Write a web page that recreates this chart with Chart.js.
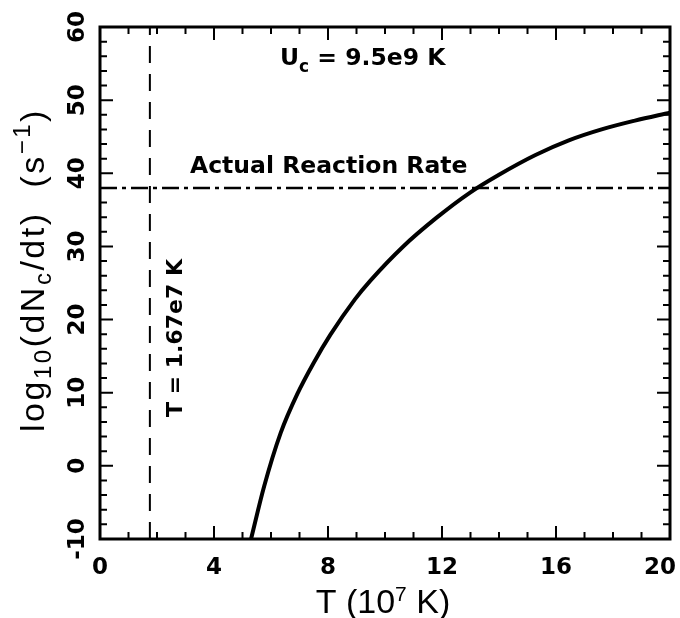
<!DOCTYPE html>
<html>
<head>
<meta charset="utf-8">
<script src="https://cdn.jsdelivr.net/npm/chart.js@4.4.1/dist/chart.umd.min.js"></script>
<style>
  html, body { margin: 0; padding: 0; background: #ffffff; }
  #wrap { width: 680px; height: 618px; position: relative; }
</style>
</head>
<body>
<div id="wrap"><canvas id="rateChart"></canvas></div>
<script>
// T in units of 1e7 K
const temps = [5.3, 5.76, 6.34, 6.92, 7.5, 8.08, 8.95, 9.48, 10.64, 11.8, 12.96, 14.0, 15.28, 16.45, 17.6, 18.77, 20];
// log10(dNc/dt) in s^-1
const logRates = [-10, -2.8, 4.5, 9.8, 14.1, 17.9, 22.8, 25.3, 30.0, 33.9, 37.3, 39.8, 42.5, 44.5, 46.0, 47.2, 48.3];

// reference lines
const actualRate = 38;
const coreTemp = 1.75;

// axis ticks
const xTickLabels = [0, 4, 8, 12, 16, 20];
const yTickLabels = [-10, 0, 10, 20, 30, 40, 50, 60];
const xMinorTicks = [0, 1, 2, 3, 4, 5, 6, 7, 8, 9, 10, 11, 12, 13, 14, 15, 16, 17, 18, 19, 20];
const yMinorTicks = [-10, -8, -6, -4, -2, 0, 2, 4, 6, 8, 10, 12, 14, 16, 18, 20, 22, 24, 26, 28, 30, 32, 34, 36, 38, 40, 42, 44, 46, 48, 50, 52, 54, 56, 58, 60];

const tickFont = 'bold 23px "DejaVu Sans"';
const noteFont = 'bold 23.5px "DejaVu Sans"';
const titleFont = '34px "Liberation Sans"';

// draw a row of text pieces (for sub/superscripts), optionally rotated
function drawRuns(ctx, runs, x, y, align, angle, spacing) {
    ctx.save();
    ctx.translate(x, y);
    if (angle) ctx.rotate(angle);
    ctx.textAlign = 'left';
    ctx.textBaseline = 'alphabetic';
    ctx.letterSpacing = (spacing || 0) + 'px';
    let total = 0;
    runs.forEach(r => {
        ctx.font = r.font;
        r.w = ctx.measureText(r.text).width;
        total += r.w;
    });
    let cx = align === 'center' ? -total / 2 : (align === 'right' ? -total : 0);
    runs.forEach(r => {
        ctx.font = r.font;
        ctx.fillText(r.text, cx, r.dy || 0);
        cx += r.w;
    });
    ctx.restore();
    return total;
}

const framePlugin = {
    id: 'framePlugin',
    afterDatasetsDraw(chart) {
        const ctx = chart.ctx;
        const xs = chart.scales.x;
        const ys = chart.scales.y;
        const a = chart.chartArea;
        ctx.save();
        ctx.strokeStyle = '#000';
        ctx.fillStyle = '#000';

        // tick marks on all four sides
        ctx.lineWidth = 2;
        ctx.beginPath();
        xMinorTicks.forEach(v => {
            const px = xs.getPixelForValue(v);
            const len = xTickLabels.includes(v) ? 13 : 7;
            ctx.moveTo(px, a.bottom); ctx.lineTo(px, a.bottom - len);
            ctx.moveTo(px, a.top); ctx.lineTo(px, a.top + len);
        });
        yMinorTicks.forEach(v => {
            const py = ys.getPixelForValue(v);
            const len = yTickLabels.includes(v) ? 13 : 7;
            ctx.moveTo(a.left, py); ctx.lineTo(a.left + len, py);
            ctx.moveTo(a.right, py); ctx.lineTo(a.right - len, py);
        });
        ctx.stroke();

        // frame
        ctx.lineWidth = 3;
        ctx.strokeRect(a.left, a.top, a.right - a.left, a.bottom - a.top);

        // x tick labels
        ctx.font = tickFont;
        ctx.textAlign = 'center';
        ctx.textBaseline = 'alphabetic';
        xTickLabels.forEach(v => {
            const label = String(v);
            const w = ctx.measureText(label).width;
            const px = Math.min(xs.getPixelForValue(v), chart.width - 4 - w / 2);
            ctx.fillText(label, px, 574);
        });

        // y tick labels, rotated
        yTickLabels.forEach(v => {
            drawRuns(ctx, [{ text: String(v), font: tickFont }], 84, ys.getPixelForValue(v), 'center', -Math.PI / 2);
        });

        // axis titles
        const subFont = '24px "Liberation Sans"';
        drawRuns(ctx, [
            { text: 'T (10', font: titleFont },
            { text: '7', font: '21px "Liberation Sans"', dy: -12 },
            { text: ' K)', font: titleFont }
        ], 383, 613, 'center', 0, 0);

        drawRuns(ctx, [
            { text: 'log', font: titleFont },
            { text: '10', font: subFont, dy: 7 },
            { text: '(dN', font: titleFont },
            { text: 'c', font: subFont, dy: 7 },
            { text: '/dt)  (s', font: titleFont },
            { text: '\u22121', font: subFont, dy: -14 },
            { text: ')', font: titleFont }
        ], 44, 270, 'center', -Math.PI / 2, 2.5);

        // annotations
        drawRuns(ctx, [
            { text: 'U', font: noteFont },
            { text: 'c', font: 'bold 17px "DejaVu Sans"', dy: 7 },
            { text: ' = 9.5e9 K', font: noteFont }
        ], 280, 65, 'left', 0);
        drawRuns(ctx, [{ text: 'Actual Reaction Rate', font: noteFont }], 190, 173, 'left', 0);
        drawRuns(ctx, [{ text: 'T = 1.67e7 K', font: 'bold 22px "DejaVu Sans"' }], 182, 417, 'left', -Math.PI / 2);

        ctx.restore();
    }
};

new Chart(document.getElementById('rateChart'), {
    type: 'scatter',
    data: {
        datasets: [
            {
                label: 'rate',
                data: temps.map((t, i) => ({ x: t, y: logRates[i] })),
                showLine: true,
                borderColor: '#000',
                borderWidth: 4,
                pointRadius: 0,
                cubicInterpolationMode: 'monotone'
            },
            {
                label: 'actual',
                data: [{ x: 0, y: actualRate }, { x: 20, y: actualRate }],
                showLine: true,
                borderColor: '#000',
                borderWidth: 2.5,
                borderDash: [17, 5, 4, 5],
                pointRadius: 0
            },
            {
                label: 'core',
                data: [{ x: coreTemp, y: -10 }, { x: coreTemp, y: 60 }],
                showLine: true,
                borderColor: '#000',
                borderWidth: 2,
                borderDash: [17, 11],
                pointRadius: 0
            }
        ]
    },
    options: {
        responsive: true,
        maintainAspectRatio: false,
        animation: false,
        layout: { padding: { left: 100, right: 10, top: 27, bottom: 79 } },
        plugins: {
            legend: { display: false },
            tooltip: { enabled: false }
        },
        scales: {
            x: { type: 'linear', min: 0, max: 20, display: false },
            y: { type: 'linear', min: -10, max: 60, display: false }
        }
    },
    plugins: [framePlugin]
});
</script>
</body>
</html>
